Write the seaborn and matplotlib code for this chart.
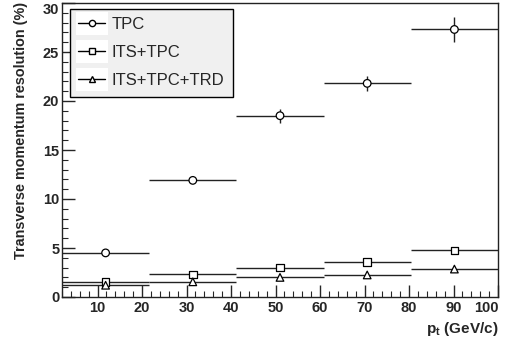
import numpy as np
import pandas as pd
import matplotlib
matplotlib.use("Agg")
import matplotlib.pyplot as plt
from matplotlib.lines import Line2D
from matplotlib.patches import Rectangle
from matplotlib.legend_handler import HandlerLine2D
from matplotlib.ticker import MultipleLocator
import matplotlib.transforms as mtransforms
import seaborn as sns

# ---- data ----
bin_edges = [2.0, 21.6, 41.2, 60.8, 80.4, 100.0]
pt_centers = [11.8, 31.4, 51.0, 70.6, 90.2]
series_names = ["TPC", "ITS+TPC", "ITS+TPC+TRD"]
res_tpc = [4.5, 11.9, 18.5, 21.8, 27.3]
err_tpc = [0.05, 0.2, 0.7, 0.8, 1.3]
res_its_tpc = [1.5, 2.3, 3.0, 3.6, 4.75]
err_its_tpc = [0.0, 0.0, 0.0, 0.0, 0.0]
res_its_tpc_trd = [1.2, 1.55, 2.0, 2.25, 2.85]
err_its_tpc_trd = [0.0, 0.0, 0.0, 0.0, 0.0]

half_width = [(bin_edges[i + 1] - bin_edges[i]) / 2 for i in range(len(pt_centers))]

df = pd.DataFrame({
    "pt": pt_centers * 3,
    "res": res_tpc + res_its_tpc + res_its_tpc_trd,
    "err": err_tpc + err_its_tpc + err_its_tpc_trd,
    "xerr": half_width * 3,
    "series": sum([[n] * len(pt_centers) for n in series_names], []),
})

sns.set_style("ticks")
plt.rcParams["font.family"] = ["Liberation Sans", "DejaVu Sans"]
plt.rcParams["mathtext.fontset"] = "custom"
plt.rcParams["mathtext.rm"] = "Liberation Sans"
plt.rcParams["mathtext.bf"] = "Liberation Sans:bold"

fig = plt.figure(figsize=(5.11, 3.37), dpi=100)
ax = fig.add_axes([62 / 511, 1 - 297 / 337, (498 - 62) / 511, (297 - 3) / 337])

markers = {"TPC": "o", "ITS+TPC": "s", "ITS+TPC+TRD": "^"}
for name in series_names:
    sub = df[df["series"] == name]
    ax.errorbar(sub["pt"], sub["res"], xerr=sub["xerr"], yerr=sub["err"],
                fmt="none", ecolor="#222222", elinewidth=1.0, capsize=0, zorder=2)

sns.scatterplot(data=df, x="pt", y="res", style="series", markers=markers,
                style_order=series_names, s=30, facecolor="white",
                edgecolor="black", linewidth=0.9, legend=False, ax=ax, zorder=3)

ax.set_xlim(2, 100)
ax.set_ylim(0, 30)
ax.xaxis.set_major_locator(MultipleLocator(10))
ax.xaxis.set_minor_locator(MultipleLocator(2))
ax.yaxis.set_major_locator(MultipleLocator(5))
ax.yaxis.set_minor_locator(MultipleLocator(1))
ax.tick_params(axis="both", which="major", direction="in", length=9, width=1,
               labelsize=10.5, top=False, right=False)
ax.tick_params(axis="both", which="minor", direction="in", length=4.5, width=0.8,
               top=False, right=False)
ax.tick_params(axis="x", pad=3)
ax.tick_params(axis="y", pad=2)
fig.canvas.draw()
for lab in ax.get_xticklabels() + ax.get_yticklabels():
    lab.set_fontweight("bold")
for lab in ax.get_xticklabels():
    if lab.get_text() == "100":
        lab.set_horizontalalignment("right")
        lab.set_transform(lab.get_transform() + mtransforms.ScaledTranslation(1 / 100, 0, fig.dpi_scale_trans))
for lab in ax.get_yticklabels():
    if lab.get_text() == "30":
        lab.set_transform(lab.get_transform() + mtransforms.ScaledTranslation(0, -5 / 100, fig.dpi_scale_trans))

for sp in ax.spines.values():
    sp.set_visible(True)
    sp.set_color("#222222")
    sp.set_linewidth(1.0)

ax.set_xlabel("")
ax.set_ylabel("")
fig.text(21.5 / 511, 1 - 2 / 337, "Transverse momentum resolution (%)", rotation=90,
         ha="center", va="top", fontsize=10.4, fontweight="bold")
fig.text(498 / 511, 1 - 329 / 337, r"p$_\mathbf{t}$ (GeV/c)", ha="right", va="center",
         fontsize=11, fontweight="bold")


class BoxedHandler(HandlerLine2D):
    def create_artists(self, legend, orig_handle, xdescent, ydescent, width, height,
                       fontsize, trans):
        pad = 0.32 * fontsize
        rect = Rectangle((-xdescent - 2, -ydescent - pad), width + 4, height + 2 * pad,
                         facecolor="white", edgecolor="none", transform=trans)
        arts = super().create_artists(legend, orig_handle, xdescent, ydescent, width,
                                      height, fontsize, trans)
        return [rect] + list(arts)


handles = [Line2D([0], [0], color="black", lw=1.0, marker=markers[n], markersize=4.5,
                  markerfacecolor="white", markeredgecolor="black") for n in series_names]
leg = ax.legend(handles, series_names, loc="upper left",
                bbox_to_anchor=(70 / 511, 1 - 9 / 337), bbox_transform=fig.transFigure,
                borderaxespad=0, fontsize=12, frameon=True, fancybox=False,
                handlelength=1.6, handletextpad=0.4, borderpad=0.5, labelspacing=0.78,
                handler_map={Line2D: BoxedHandler()})
leg.get_frame().set_facecolor("#f0f0f0")
leg.get_frame().set_edgecolor("black")
leg.get_frame().set_linewidth(1.0)
leg.get_frame().set_alpha(1)

fig.savefig("out.png", dpi=100)
